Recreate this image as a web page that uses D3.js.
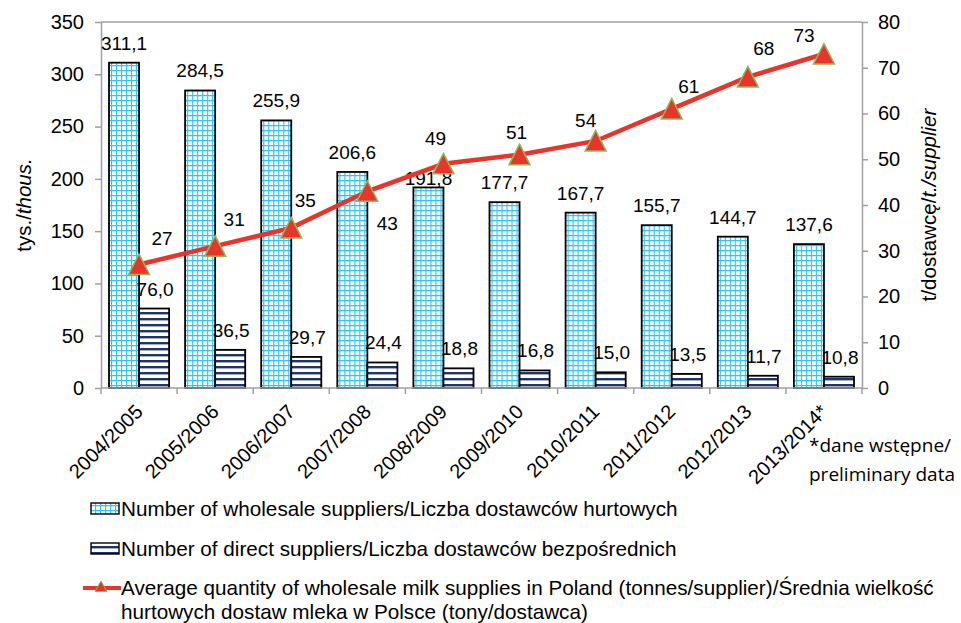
<!DOCTYPE html>
<html>
<head>
<meta charset="utf-8">
<script src="https://cdnjs.cloudflare.com/ajax/libs/d3/7.8.5/d3.min.js"></script>
<style>
  body { margin: 0; background: #fff; }
  svg { display: block; font-family: "Liberation Sans", Arial, sans-serif; }
</style>
</head>
<body>
<svg id="chart"></svg>
<script>
let seasons = ["2004/2005", "2005/2006", "2006/2007", "2007/2008", "2008/2009",
               "2009/2010", "2010/2011", "2011/2012", "2012/2013", "2013/2014*"]
let wholesale = [311.1, 284.5, 255.9, 206.6, 191.8, 177.7, 167.7, 155.7, 144.7, 137.6]
let direct = [76.0, 36.5, 29.7, 24.4, 18.8, 16.8, 15.0, 13.5, 11.7, 10.8]
let avgQty = [27, 31, 35, 43, 49, 51, 54, 61, 68, 73]
let leftTicks = [0, 50, 100, 150, 200, 250, 300, 350]
let rightTicks = [0, 10, 20, 30, 40, 50, 60, 70, 80]

// where Excel put each line label, relative to its marker
let lineLabelShift = [[23, -26], [19, -27], [14, -28], [20, 32], [-8, -25],
                      [-3, -22], [-10, -21], [17, -23], [16, -29], [-20, -19]]
// 191,8 got pushed down by the marker
let barLabelDrop = [0, 0, 0, 0, 11, 0, 0, 0, 0, 0]

let width = 961
let height = 623
let plotLeft = 101, plotRight = 862, plotTop = 22, plotBottom = 388
let axisGrey = "#a0a0a0"

let svg = d3.select("#chart").attr("width", width).attr("height", height)

let defs = svg.append("defs")

let grid = defs.append("pattern")
  .attr("id", "grid")
  .attr("patternUnits", "userSpaceOnUse")
  .attr("width", 5).attr("height", 5)
grid.append("rect").attr("width", 5).attr("height", 5).attr("fill", "#fff")
grid.append("path").attr("d", "M0,0.5H5M0.5,0V5")
  .attr("stroke", "#2ec4f4").attr("stroke-width", 1.3)

let stripes = defs.append("pattern")
  .attr("id", "stripes")
  .attr("patternUnits", "userSpaceOnUse")
  .attr("width", 6).attr("height", 6)
stripes.append("rect").attr("width", 6).attr("height", 6).attr("fill", "#fff")
stripes.append("rect").attr("y", 0).attr("width", 6).attr("height", 2.4).attr("fill", "#1f3564")

let xScale = d3.scaleBand().domain(seasons).range([plotLeft, plotRight])
let inner = d3.scaleBand().domain(["w", "d"])
  .range([8, xScale.bandwidth() - 8])
let yLeft = d3.scaleLinear().domain([0, 350]).range([plotBottom, plotTop])
let yRight = d3.scaleLinear().domain([0, 80]).range([plotBottom, plotTop])

let fmt = (v) => d3.format(".1f")(v).replace(".", ",")

// frame top
svg.append("line")
  .attr("x1", plotLeft).attr("x2", plotRight).attr("y1", plotTop).attr("y2", plotTop)
  .attr("stroke", axisGrey).attr("stroke-width", 1.5)

// axes
let leftAxis = svg.append("g")
  .attr("transform", "translate(" + plotLeft + ",0)")
  .call(d3.axisLeft(yLeft).tickValues(leftTicks).tickSize(6).tickSizeOuter(0).tickPadding(11))
let rightAxis = svg.append("g")
  .attr("transform", "translate(" + plotRight + ",0)")
  .call(d3.axisRight(yRight).tickValues(rightTicks).tickSize(6).tickSizeOuter(0).tickPadding(10))

;[leftAxis, rightAxis].forEach((g) => {
  g.select(".domain").attr("stroke", axisGrey).attr("stroke-width", 1.5)
  g.selectAll(".tick line").attr("stroke", axisGrey).attr("stroke-width", 1.5)
  g.selectAll("text").attr("font-size", "20px").attr("fill", "#000")
    .attr("font-family", "Liberation Sans, Arial, sans-serif")
})

// bars
let groups = svg.selectAll(".season")
  .data(seasons)
  .enter()
  .append("g")
  .attr("transform", (d) => "translate(" + xScale(d) + ",0)")

groups.append("rect")
  .attr("x", inner("w"))
  .attr("width", inner.bandwidth())
  .attr("y", (d, i) => yLeft(wholesale[i]))
  .attr("height", (d, i) => yLeft(0) - yLeft(wholesale[i]))
  .attr("fill", "url(#grid)")
  .attr("stroke", "#000").attr("stroke-width", 1.8)

groups.append("rect")
  .attr("x", inner("d"))
  .attr("width", inner.bandwidth())
  .attr("y", (d, i) => yLeft(direct[i]))
  .attr("height", (d, i) => yLeft(0) - yLeft(direct[i]))
  .attr("fill", "url(#stripes)")
  .attr("stroke", "#000").attr("stroke-width", 1.8)

// x axis
let xAxis = svg.append("g")
  .attr("transform", "translate(0," + plotBottom + ")")
xAxis.append("line")
  .attr("x1", plotLeft).attr("x2", plotRight)
  .attr("stroke", axisGrey).attr("stroke-width", 1.5)
xAxis.selectAll(".xtick")
  .data(seasons)
  .enter()
  .append("line")
  .attr("x1", (d) => xScale(d)).attr("x2", (d) => xScale(d))
  .attr("y1", 0).attr("y2", 6)
  .attr("stroke", axisGrey).attr("stroke-width", 1.5)
xAxis.append("line")
  .attr("x1", plotRight).attr("x2", plotRight).attr("y1", 0).attr("y2", 6)
  .attr("stroke", axisGrey).attr("stroke-width", 1.5)
xAxis.selectAll(".xlabel")
  .data(seasons)
  .enter()
  .append("text")
  .attr("transform", (d) => "translate(" + (xScale(d) + xScale.bandwidth() / 2) + ",20) rotate(-45)")
  .attr("text-anchor", "end")
  .attr("dy", "0.35em")
  .attr("font-size", "20px")
  .text((d) => d)

// bar labels
groups.append("text")
  .attr("x", inner("w") + inner.bandwidth() / 2)
  .attr("y", (d, i) => yLeft(wholesale[i]) - 13 + barLabelDrop[i])
  .attr("text-anchor", "middle")
  .attr("font-size", "19px")
  .text((d, i) => fmt(wholesale[i]))

groups.append("text")
  .attr("x", inner("d") + inner.bandwidth() / 2 + 1)
  .attr("y", (d, i) => yLeft(direct[i]) - 13)
  .attr("text-anchor", "middle")
  .attr("font-size", "19px")
  .text((d, i) => fmt(direct[i]))

// line
let cx = (d) => xScale(d) + xScale.bandwidth() / 2
let line = d3.line()
  .x((d) => cx(d))
  .y((d, i) => yRight(avgQty[i]))

svg.append("path")
  .datum(seasons)
  .attr("d", line)
  .attr("fill", "none")
  .attr("stroke", "#e8352b")
  .attr("stroke-width", 4.5)

let tri = "M0,-10.5L10.5,10L-10.5,10Z"

svg.selectAll(".marker")
  .data(seasons)
  .enter()
  .append("path")
  .attr("d", tri)
  .attr("transform", (d, i) => "translate(" + cx(d) + "," + yRight(avgQty[i]) + ")")
  .attr("fill", "#e8352b")
  .attr("stroke", "#8fb85a")
  .attr("stroke-width", 1.5)

svg.selectAll(".linelabel")
  .data(seasons)
  .enter()
  .append("text")
  .attr("x", (d, i) => cx(d) + lineLabelShift[i][0])
  .attr("y", (d, i) => yRight(avgQty[i]) + lineLabelShift[i][1])
  .attr("dy", "0.35em")
  .attr("text-anchor", "middle")
  .attr("font-size", "19px")
  .text((d, i) => avgQty[i])

// axis titles
let lt = svg.append("text")
  .attr("transform", "translate(31,205) rotate(-90)")
  .attr("text-anchor", "middle")
  .attr("font-size", "20.5px")
lt.append("tspan").text("tys./")
lt.append("tspan").attr("font-style", "italic").text("thous.")

let rt = svg.append("text")
  .attr("transform", "translate(936,205) rotate(-90)")
  .attr("text-anchor", "middle")
  .attr("font-size", "20.5px")
rt.append("tspan").text("t/dostawcę/")
rt.append("tspan").attr("font-style", "italic").text("t./supplier")

// footnote
let note = svg.append("text")
  .attr("font-family", "Open Sans, sans-serif")
  .attr("font-size", "19px")
note.append("tspan").attr("x", 809).attr("y", 452).text("*dane wstępne/")
note.append("tspan").attr("x", 809).attr("y", 481).text("preliminary data")

// legend
let legend = svg.append("g").attr("font-size", "20.7px")

legend.append("rect")
  .attr("x", 91).attr("y", 503).attr("width", 28).attr("height", 11)
  .attr("fill", "url(#grid)").attr("stroke", "#000").attr("stroke-width", 1.4)
legend.append("text").attr("x", 121).attr("y", 516)
  .text("Number of wholesale suppliers/Liczba dostawców hurtowych")

legend.append("rect")
  .attr("x", 91).attr("y", 543).attr("width", 28).attr("height", 11)
  .attr("fill", "url(#stripes)").attr("stroke", "#000").attr("stroke-width", 1.4)
legend.append("text").attr("x", 121).attr("y", 556)
  .text("Number of direct suppliers/Liczba dostawców bezpośrednich")

legend.append("line")
  .attr("x1", 83).attr("x2", 121).attr("y1", 588).attr("y2", 588)
  .attr("stroke", "#e8352b").attr("stroke-width", 4)
legend.append("path")
  .attr("d", "M0,-6L6,4.5L-6,4.5Z")
  .attr("transform", "translate(101,587)")
  .attr("fill", "#e8352b").attr("stroke", "#8fb85a").attr("stroke-width", 1)
legend.append("text").attr("x", 121).attr("y", 595)
  .text("Average quantity of wholesale milk supplies in Poland (tonnes/supplier)/Średnia wielkość")
legend.append("text").attr("x", 121).attr("y", 619)
  .text("hurtowych dostaw mleka w Polsce (tony/dostawca)")
</script>
</body>
</html>
